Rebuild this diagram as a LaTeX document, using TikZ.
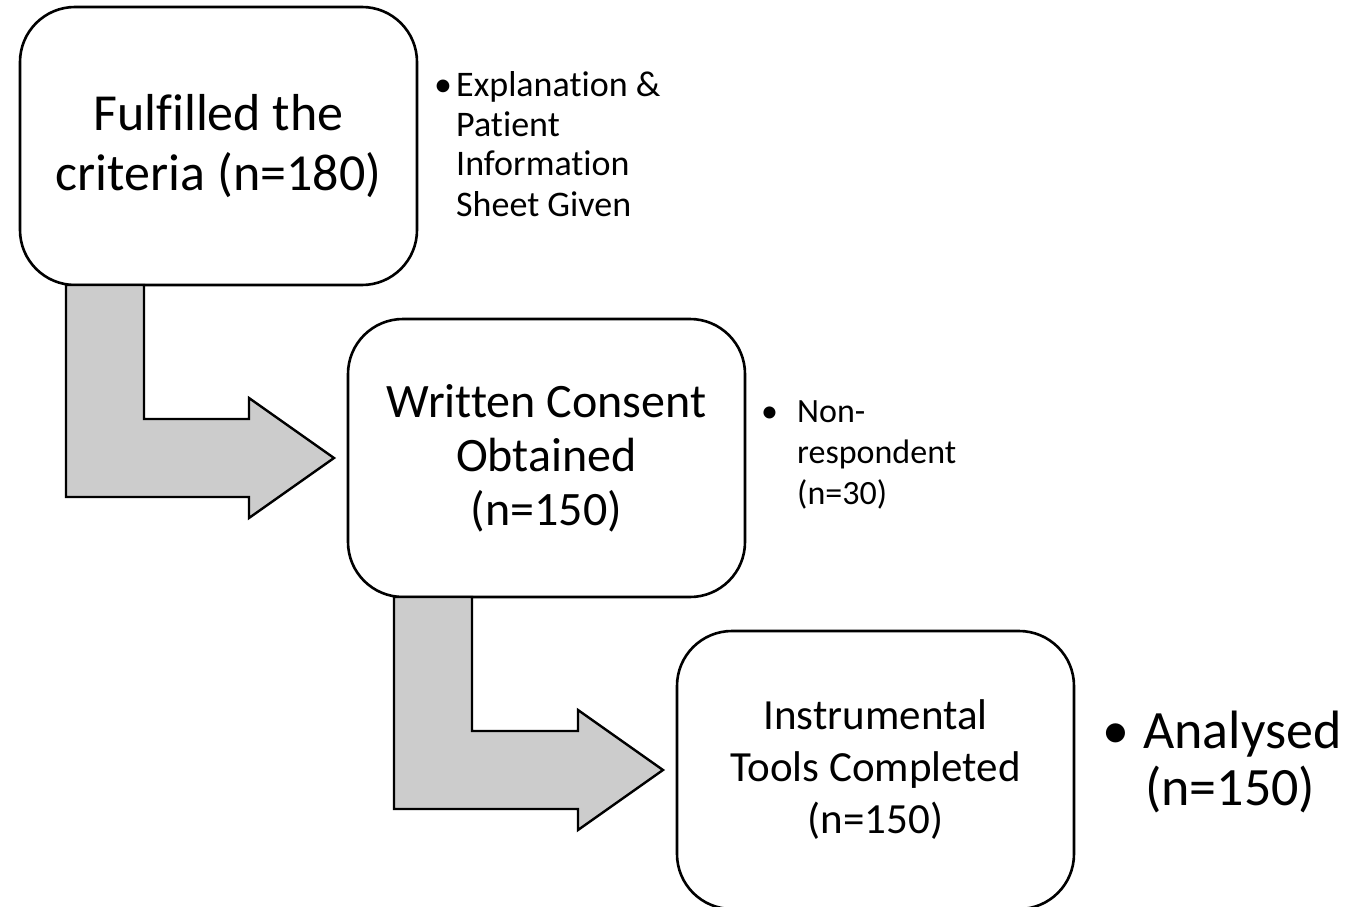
\documentclass[tikz,border=0pt]{standalone}
\usepackage{fontspec}
\setmainfont{Carlito}[Ligatures=CommonOff]
\usetikzlibrary{positioning,calc}
\tikzset{
  stage/.style={draw, line width=2.6pt, rounded corners=55pt, minimum width=397pt,
    minimum height=278pt, inner sep=0pt, outer sep=0pt, align=center},
  bendarrow/.style={draw, fill=black!20, line width=2.4pt, line join=miter},
  sidenote/.style={anchor=base west, inner sep=0pt},
}
\newcommand{\bul}[1]{\makebox[#1][l]{\textbullet}}
% bent block arrow from the bottom of one stage to the left of the next
\newcommand{\stagearrow}[2]{%
  \draw[bendarrow] let \p1=(#1.south west), \p2=(#2.west) in
    (\x1+46pt,\y1) -- (\x1+124pt,\y1) -- (\x1+124pt,\y2+39pt) -- (\x2-99pt,\y2+39pt)
    -- (\x2-99pt,\y2+60pt) -- (\x2-14pt,\y2) -- (\x2-99pt,\y2-60pt)
    -- (\x2-99pt,\y2-39pt) -- (\x1+46pt,\y2-39pt) -- cycle;}
\begin{document}
\begin{tikzpicture}[x=1pt, y=-1pt]
  \useasboundingbox (0,0) rectangle (1345,907);
  \node (crit) [stage, font=\fontsize{52}{60}\selectfont] at (218.5,146)
    {Fulfilled the\\criteria (n=180)};
  \node (consent) [stage, below right=34pt and -69pt of crit,
    font=\fontsize{48}{54}\selectfont] {Written Consent\\Obtained\\(n=150)};
  \node (tools) [stage, below right=34pt and -68pt of consent,
    font=\fontsize{43}{52}\selectfont] {Instrumental\\Tools Completed\\(n=150)};

  \stagearrow{crit}{consent}
  \stagearrow{consent}{tools}

  % notes beside the stages
  \node (handout) [sidenote, font=\fontsize{36}{40}\selectfont] at (434,96)
    {\begin{tabular}[t]{@{}l@{}}\bul{22pt}Explanation \&\\ \hspace*{22pt}Patient\\
     \hspace*{22pt}Information\\ \hspace*{22pt}Sheet Given\end{tabular}};
  \node (dropout) [sidenote, font=\fontsize{34}{41}\selectfont] at (761,422)
    {\begin{tabular}[t]{@{}l@{}}\bul{36pt}Non-\\ \hspace*{36pt}respondent\\
     \hspace*{36pt}(n=30)\end{tabular}};
  \node (analysed) [sidenote, font=\fontsize{54}{57}\selectfont] at (1102,748)
    {\begin{tabular}[t]{@{}l@{}}\bul{41pt}Analysed\\ \hspace*{43pt}(n=150)\end{tabular}};
\end{tikzpicture}
\end{document}
